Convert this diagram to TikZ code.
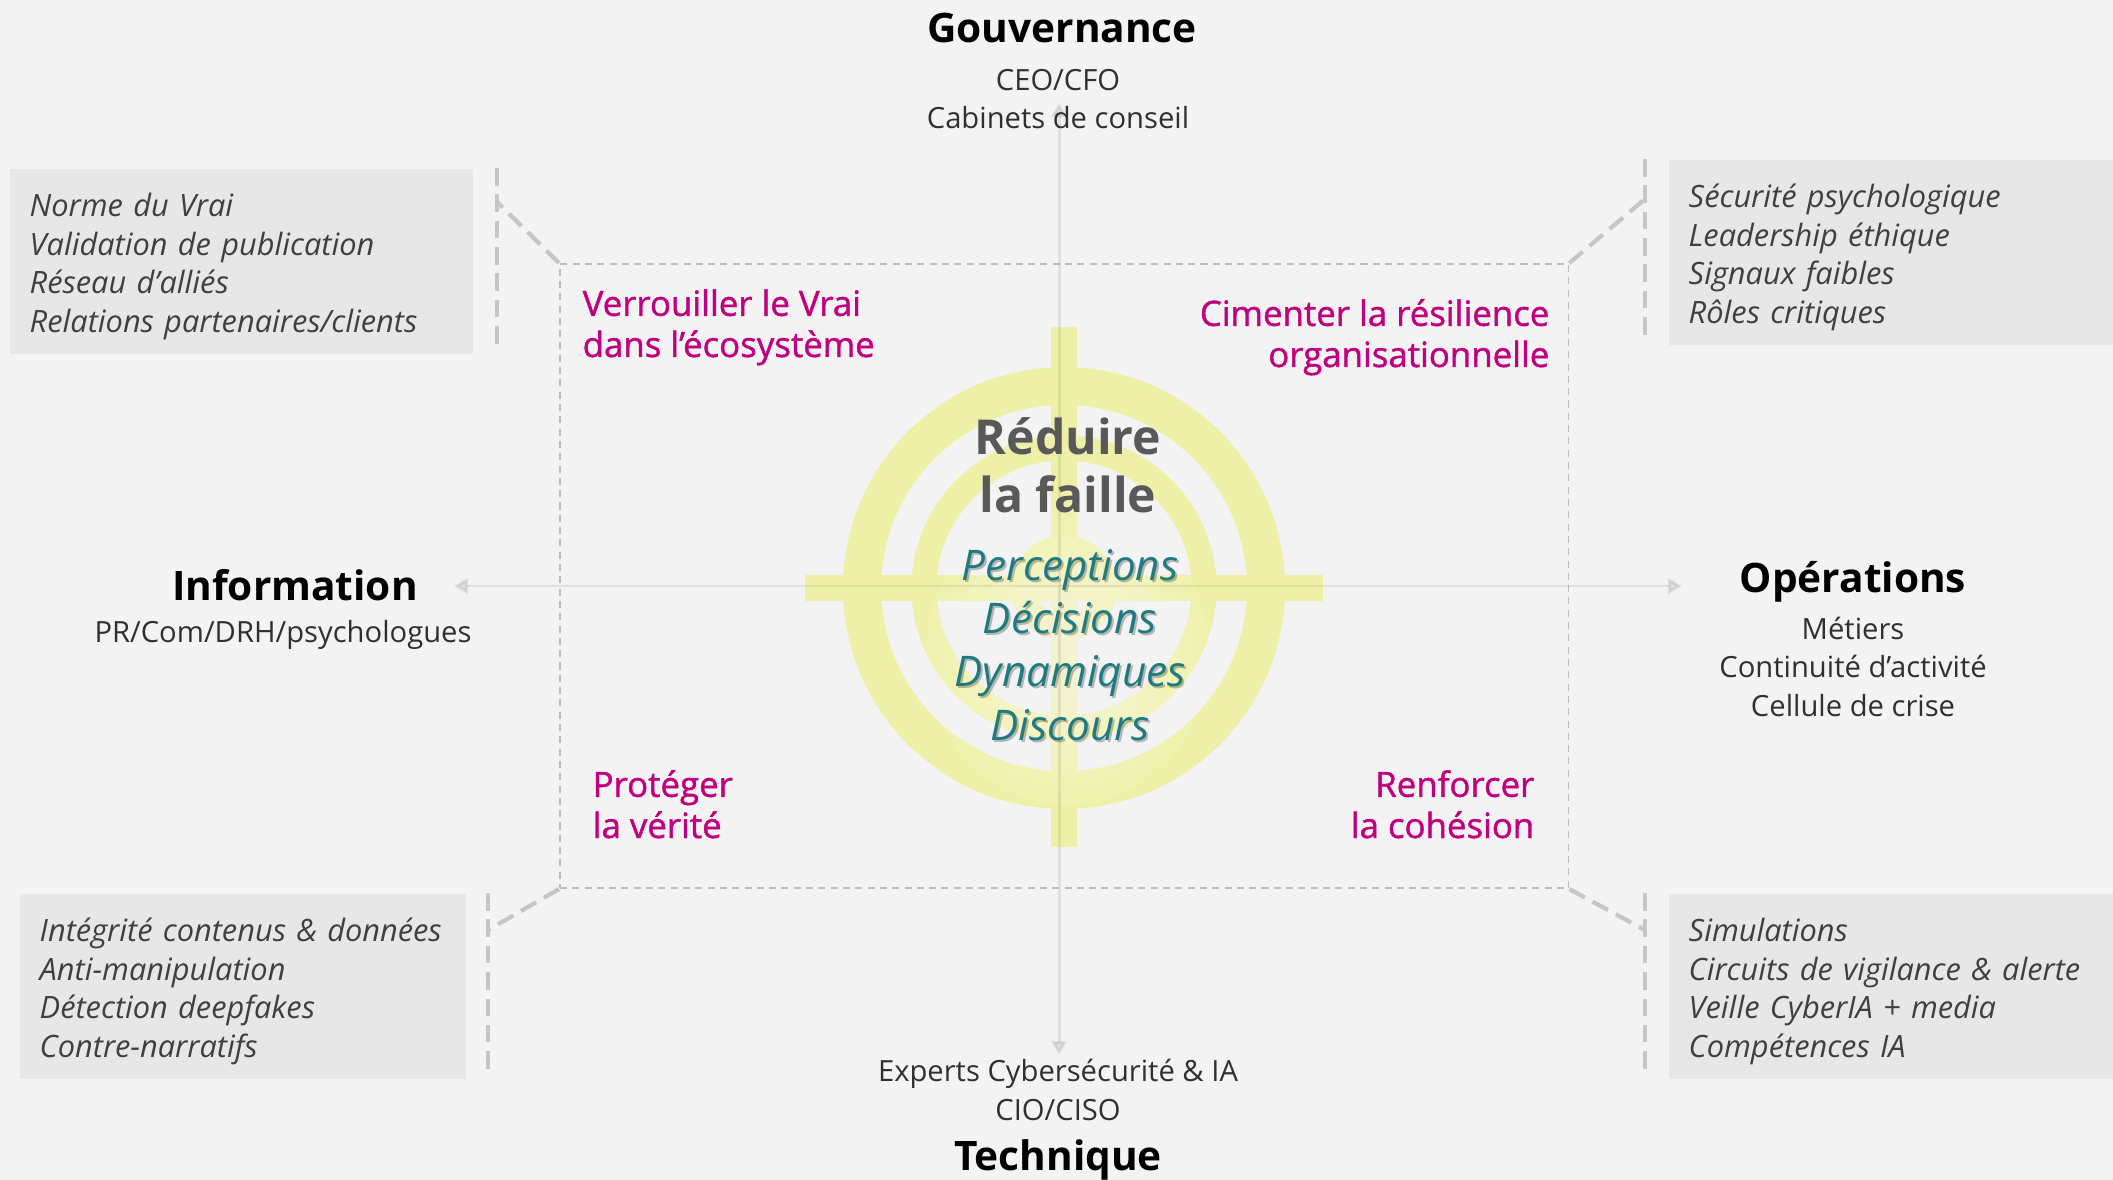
\documentclass[tikz,border=0pt]{standalone}
\usepackage{fontspec}
\setmainfont{Open Sans}
\newfontfamily\semibold[FakeBold=1.2]{Open Sans}
\usepackage{xcolor}
\usepackage{tikz}
\usetikzlibrary{positioning}
\usetikzlibrary{arrows.meta}

\definecolor{bgfill}{HTML}{F3F3F3}
\definecolor{boxfill}{HTML}{E7E7E7}
\definecolor{boxtext}{HTML}{404040}
\definecolor{linkgray}{HTML}{C6C6C6}
\definecolor{framegray}{HTML}{BDBDBD}
\definecolor{keymagenta}{HTML}{C0007F}
\definecolor{leverteal}{HTML}{1F7B80}
\definecolor{ringyellow}{HTML}{EEF0A8}
\definecolor{goalgray}{HTML}{595959}
\definecolor{subtext}{HTML}{303030}

\begin{document}
\begin{tikzpicture}[x=0.01cm, y=-0.01cm,
  head/.style={font=\fontsize{11.55}{13}\selectfont\bfseries, text=black, inner sep=0pt, anchor=base},
  sub/.style={font=\fontsize{8.3}{10.9}\selectfont, text=subtext, inner sep=0pt, align=center, anchor=base},
  key/.style={font=\semibold\fontsize{9.9}{11.7}\selectfont, text=keymagenta, inner sep=0pt},
  box/.style={fill=boxfill, text=boxtext, font=\fontsize{8.75}{10.95}\selectfont\itshape, align=left,
    inner xsep=0.2cm, inner ysep=0pt, minimum height=1.85cm, anchor=north west,
    execute at begin node=\rule{0pt}{9.5pt}},
  link/.style={draw=linkgray, line width=1.2pt, dash pattern=on 5pt off 2.5pt},
  frame/.style={draw=framegray, line width=0.5pt, dash pattern=on 2pt off 1.5pt, inner sep=0pt, anchor=north west},
  axis/.style={draw=black, opacity=0.08, line width=0.85pt,
    {Triangle[length=4pt,width=4.5pt]}-{Triangle[length=4pt,width=4.5pt]}},
  ring/.style={draw=ringyellow},
  lever/.style={font=\fontsize{12}{15.1}\selectfont\itshape, inner sep=0pt, align=center, anchor=base}
]
\fill[bgfill] (0,0) rectangle (2113,1180);
\useasboundingbox (0,0) rectangle (2113,1180);

% dashed frame round the four aims
\node[frame, minimum width=10.08cm, minimum height=6.24cm] (frame) at (559,263) {};

% target
\coordinate (aim) at (1064,588);
\fill[ringyellow] (1051,327) rectangle (1077,847);
\fill[ringyellow] (805,575) rectangle (1323,601);
\draw[ring, line width=0.38cm] (aim) circle (202);
\draw[ring, line width=0.25cm] (aim) circle (140);
\draw[ring, line width=0.25cm] (aim) circle (40);
\foreach \r in {150,135,...,45}
  \fill[white, opacity=0.08] (1067,655) ellipse (\r*0.95 and \r);

% axes
\coordinate (ax-n) at (1059,103);
\coordinate (ax-s) at (1059,1055);
\coordinate (ax-w) at (454,586);
\coordinate (ax-e) at (1682,586);
\draw[axis] (ax-n) -- (ax-s);
\draw[axis] (ax-w) -- (ax-e);

% links to the side boxes
\coordinate (tl-a) at (497,168);
\coordinate (tl-b) at (497,350);
\coordinate (tl-k) at (497,202);
\coordinate (tr-a) at (1645,159);
\coordinate (tr-b) at (1645,341);
\coordinate (tr-k) at (1645,199);
\coordinate (bl-a) at (488,893);
\coordinate (bl-b) at (488,1075);
\coordinate (bl-k) at (488,930);
\coordinate (br-a) at (1645,893);
\coordinate (br-b) at (1645,1075);
\coordinate (br-k) at (1645,930);
\draw[link] (tl-a) -- (tl-b);
\draw[link] (tr-a) -- (tr-b);
\draw[link] (bl-a) -- (bl-b);
\draw[link] (br-a) -- (br-b);
\draw[link] (frame.north west) -- (tl-k);
\draw[link] (frame.north east) -- (tr-k);
\draw[link] (frame.south west) -- (bl-k);
\draw[link] (frame.south east) -- (br-k);

% side boxes
\node[box, text width=4.23cm] (tlbox) at (9,168)
  {Norme du Vrai\\Validation de publication\\Réseau d’alliés\\Relations partenaires/clients};
\node[box, text width=4.05cm] (trbox) at (1668,159)
  {Sécurité psychologique\\Leadership éthique\\Signaux faibles\\Rôles critiques};
\node[box, text width=4.06cm] (blbox) at (19,893)
  {Intégrité contenus \& données\\Anti-manipulation\\Détection deepfakes\\Contre-narratifs};
\node[box, text width=4.05cm] (brbox) at (1668,893)
  {Simulations\\Circuits de vigilance \& alerte\\Veille CyberIA + media\\Compétences IA};

% four domains (base = last line)
\node[head] (gov) at (1062,43) {Gouvernance};
\node[sub] (govsub) at (1058,129) {CEO/CFO\\Cabinets de conseil};
\node[head] (info) at (295,601) {Information};
\node[sub] (infosub) at (283,643) {PR/Com/DRH/psychologues};
\node[head] (ops) at (1853,593) {Opérations};
\node[sub] (opssub) at (1853,716) {Métiers\\Continuité d’activité\\Cellule de crise};
\node[sub] (techsub) at (1058,1120) {Experts Cybersécurité \& IA\\CIO/CISO};
\node[head] (tech) at (1058,1170) {Technique};

% aims
\node[key, anchor=base west, align=left] (aimtl) at (582,357) {Verrouiller le Vrai\\dans l’écosystème};
\node[key, anchor=base east, align=right] (aimtr) at (1550,367) {Cimenter la résilience\\organisationnelle};
\node[key, anchor=base west, align=left] (aimbl) at (592,838) {Protéger\\la vérité};
\node[key, anchor=base east, align=right] (aimbr) at (1535,838) {Renforcer\\la cohésion};

% centre
\node[font=\fontsize{13.7}{16.5}\selectfont\bfseries, text=goalgray, inner sep=0pt, align=center, anchor=base]
  (goal) at (1068,513) {Réduire\\la faille};
\node[lever, text=black, opacity=0.25] (levershadow) at (1072,742) {Perceptions\\Décisions\\Dynamiques\\Discours};
\node[lever, text=leverteal] (levers) at (1070,740) {Perceptions\\Décisions\\Dynamiques\\Discours};
\end{tikzpicture}
\end{document}
